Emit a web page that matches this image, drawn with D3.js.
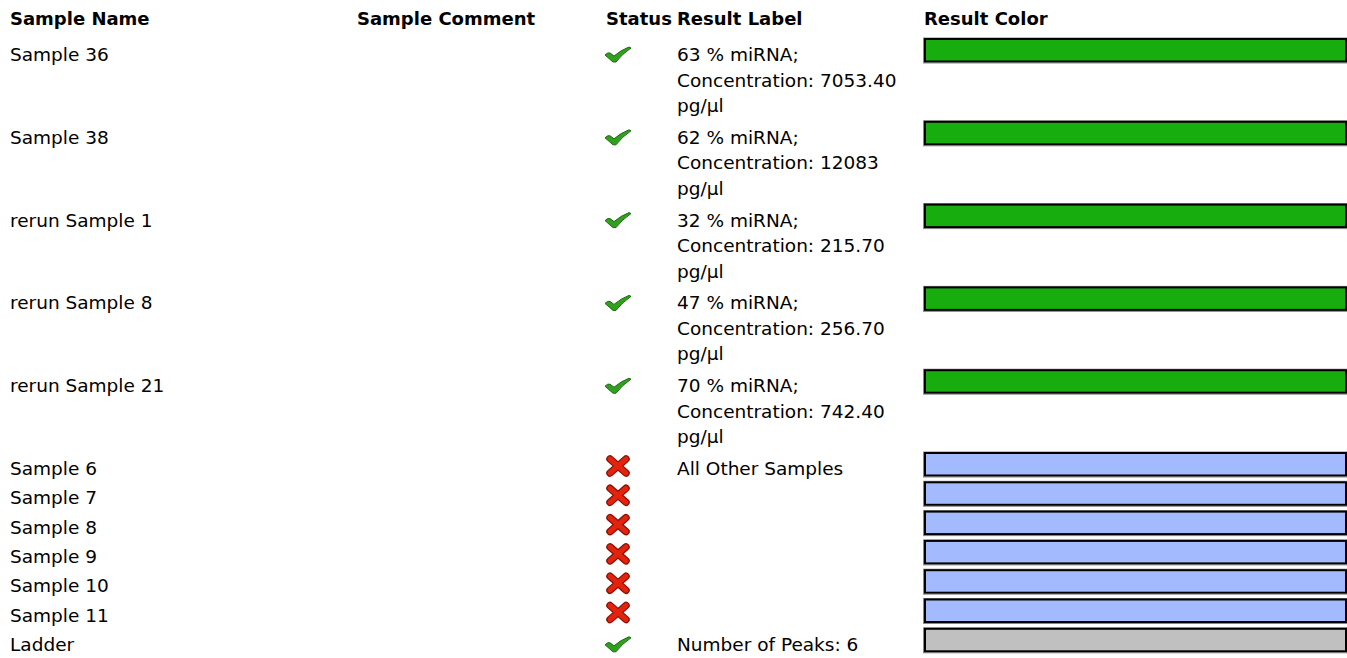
<!DOCTYPE html>
<meta charset="utf-8">
<style>
body { margin: 0; background: #fff; }
svg { display: block; }
text { font-family: "DejaVu Sans", Verdana, sans-serif; font-size: 18.5px; fill: #000; }
.head text { font-weight: bold; font-size: 18px; }
</style>
<svg width="1347" height="658"></svg>
<script src="https://d3js.org/d3.v7.min.js"></script>
<script>

// data
var columns = ["Sample Name", "Sample Comment", "Status", "Result Label", "Result Color"];
var sampleNames = ["Sample 36", "Sample 38", "rerun Sample 1", "rerun Sample 8", "rerun Sample 21",
  "Sample 6", "Sample 7", "Sample 8", "Sample 9", "Sample 10", "Sample 11", "Ladder"];
var sampleComments = ["", "", "", "", "", "", "", "", "", "", "", ""];
var statuses = ["ok", "ok", "ok", "ok", "ok", "fail", "fail", "fail", "fail", "fail", "fail", "ok"];
var resultLabels = [
  ["63 % miRNA;", "Concentration: 7053.40", "pg/µl"],
  ["62 % miRNA;", "Concentration: 12083", "pg/µl"],
  ["32 % miRNA;", "Concentration: 215.70", "pg/µl"],
  ["47 % miRNA;", "Concentration: 256.70", "pg/µl"],
  ["70 % miRNA;", "Concentration: 742.40", "pg/µl"],
  ["All Other Samples"], [], [], [], [], [],
  ["Number of Peaks: 6"]
];
var resultColors = ["#17ad0f", "#17ad0f", "#17ad0f", "#17ad0f", "#17ad0f",
  "#a3bbfe", "#a3bbfe", "#a3bbfe", "#a3bbfe", "#a3bbfe", "#a3bbfe", "#c0c0c0"];

var svg = d3.select("svg"),
    width = +svg.attr("width");

// column positions
var x = d3.scaleOrdinal()
    .domain(columns)
    .range([10, 357, 606, 677, 924]);

var lineH = 25.5;

// row heights: 3-line rows are taller than single rows
var rows = sampleNames.map(function(name, i) {
  var n = Math.max(1, resultLabels[i].length);
  return {
    name: name,
    comment: sampleComments[i],
    status: statuses[i],
    label: resultLabels[i],
    color: resultColors[i],
    h: n > 1 ? 6.3 + n * lineH : 29.3
  };
});
var tops = [38];
rows.forEach(function(r, i) { if (i > 0) tops.push(tops[i - 1] + rows[i - 1].h); });
rows.forEach(function(r, i) { r.top = tops[i]; });

// header
svg.append("g").attr("class", "head")
  .selectAll("text")
  .data(columns)
  .join("text")
    .attr("x", d => x(d))
    .attr("y", 25)
    .text(d => d);

var row = svg.append("g").selectAll("g")
  .data(rows)
  .join("g")
    .attr("transform", d => "translate(0," + d.top + ")");

row.append("text")
    .attr("x", x("Sample Name"))
    .attr("y", 23)
    .text(d => d.name);

row.append("text")
    .attr("x", x("Sample Comment"))
    .attr("y", 23)
    .text(d => d.comment);

row.append("text")
    .attr("x", x("Result Label"))
    .attr("y", 23)
  .selectAll("tspan")
  .data(d => d.label)
  .join("tspan")
    .attr("x", x("Result Label"))
    .attr("dy", (d, i) => i == 0 ? 0 : lineH)
    .text(d => d);

// status icons
var icon = row.append("g")
    .attr("transform", d => "translate(618," + (d.status == "ok" ? 17 : 14) + ")");

icon.filter(d => d.status == "ok")
  .append("path")
    .attr("d", "M-13,0 Q-10,-3 -8,-2 L-4,1 Q3,-5 11,-8 L13,-7 Q4,-1 -2,7 L-5,7 Z")
    .attr("fill", "#2fa11c")
    .attr("stroke", "#1d6a12")
    .attr("stroke-width", 1)
    .attr("stroke-linejoin", "round");

var fail = icon.filter(d => d.status == "fail");
["#8a1005", "#e3230e"].forEach(function(c, k) {
  fail.append("path")
      .attr("d", "M-8,-7 L8,7 M8,-7 L-8,7")
      .attr("stroke", c)
      .attr("stroke-width", k == 0 ? 7.5 : 5)
      .attr("stroke-linecap", "round")
      .attr("fill", "none");
});

// result color bars
var barX = x("Result Color");
row.append("rect")
    .attr("x", barX - 0.5)
    .attr("y", 0)
    .attr("width", width - barX + 2)
    .attr("height", 25)
    .attr("fill", "none")
    .attr("stroke", "#888")
    .attr("stroke-width", 1);

row.append("rect")
    .attr("x", barX + 1)
    .attr("y", 1)
    .attr("width", width - barX - 2)
    .attr("height", 22.5)
    .attr("fill", d => d.color)
    .attr("stroke", "#000")
    .attr("stroke-width", 2);

</script>
